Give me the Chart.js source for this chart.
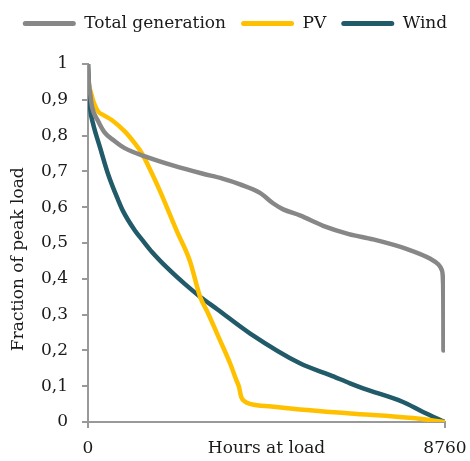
<!DOCTYPE html>
<html>
<head>
<meta charset="utf-8">
<script src="https://cdn.jsdelivr.net/npm/chart.js@4/dist/chart.umd.min.js"></script>
<style>
  html, body { margin: 0; padding: 0; background: #fff; }
  #wrap { width: 470px; height: 461px; }
</style>
</head>
<body>
<div id="wrap"><canvas id="ldc"></canvas></div>
<script>
// load duration curves
const genHours = [0, 20, 50, 100, 250, 400, 650, 900, 1400, 2100, 2800, 3300, 3730, 4220, 4540, 4790, 5200, 5770, 6400, 7000, 7830, 8400, 8600, 8680, 8712, 8720, 8722];
const genValues = [1.0, 0.95, 0.92, 0.88, 0.84, 0.81, 0.785, 0.765, 0.742, 0.716, 0.694, 0.68, 0.664, 0.64, 0.611, 0.594, 0.577, 0.548, 0.525, 0.51, 0.483, 0.456, 0.44, 0.425, 0.39, 0.3, 0.2];

const pvHours = [0, 60, 150, 245, 400, 590, 908, 1150, 1325, 1570, 1770, 2180, 2500, 2750, 2920, 3240, 3500, 3640, 3700, 3760, 3840, 4000, 4500, 5200, 6430, 7980, 8760];
const pvValues = [0.95, 0.925, 0.89, 0.868, 0.856, 0.843, 0.811, 0.778, 0.75, 0.694, 0.644, 0.533, 0.45, 0.35, 0.31, 0.228, 0.16, 0.117, 0.1, 0.07, 0.058, 0.05, 0.043, 0.035, 0.024, 0.011, 0.0];

const windHours = [0, 30, 60, 120, 300, 500, 740, 860, 1150, 1350, 1570, 1940, 2380, 2750, 3170, 3980, 5200, 5940, 6430, 6750, 7730, 8220, 8760];
const windValues = [1.0, 0.92, 0.87, 0.835, 0.765, 0.69, 0.62, 0.589, 0.535, 0.506, 0.475, 0.431, 0.385, 0.35, 0.315, 0.247, 0.164, 0.131, 0.108, 0.094, 0.056, 0.028, 0.0];

const xTicks = [0, 4380, 8760];
const xTitle = 'Hours at load';
const yTitle = 'Fraction of peak load';

const font = "'DejaVu Serif', serif";
const fontSize = 17;
const textColor = '#1a1a1a';
const axisColor = '#999999';

const toPoints = (hours, values) => hours.map((h, i) => ({ x: h, y: values[i] }));

const makeSet = (label, hours, values, color) => ({
  label: label,
  data: toPoints(hours, values),
  borderColor: color,
  backgroundColor: color,
  borderWidth: 4.5,
  pointRadius: 0,
  cubicInterpolationMode: 'monotone',
  borderCapStyle: 'round',
  borderJoinStyle: 'round',
  fill: false
});

// extra room under the legend
const legendGap = {
  id: 'legendGap',
  beforeInit(chart) {
    const fit = chart.legend.fit;
    chart.legend.fit = function () {
      fit.call(this);
      this.height += 22;
    };
  }
};

new Chart(document.getElementById('ldc').getContext('2d'), {
  type: 'line',
  data: {
    datasets: [
      makeSet('Total generation', genHours, genValues, '#878787'),
      makeSet('PV', pvHours, pvValues, '#FFC000'),
      makeSet('Wind', windHours, windValues, '#215A69')
    ]
  },
  plugins: [legendGap],
  options: {
    responsive: true,
    maintainAspectRatio: false,
    animation: false,
    layout: { padding: { left: 0, right: 0, top: 0, bottom: 2 } },
    plugins: {
      tooltip: { enabled: false },
      legend: {
        position: 'top',
        labels: {
          color: textColor,
          font: { family: font, size: fontSize },
          boxWidth: 53,
          boxHeight: 5,
          padding: 15,
          useBorderRadius: true,
          borderRadius: 2.5,
          generateLabels: (chart) =>
            Chart.defaults.plugins.legend.labels.generateLabels(chart).map(l => ({ ...l, lineWidth: 0, fillStyle: l.strokeStyle }))
        }
      }
    },
    scales: {
      x: {
        type: 'linear',
        min: 0,
        max: 8760,
        afterBuildTicks: (axis) => { axis.ticks = xTicks.map(v => ({ value: v })); },
        afterFit: (axis) => {
          axis.height = 37;
          axis.paddingLeft = 0;
          axis.paddingRight = 25;
        },
        ticks: {
          color: textColor,
          font: { family: font, size: fontSize },
          padding: 10,
          maxRotation: 0,
          autoSkip: false,
          callback: (v) => v === 4380 ? xTitle : String(v)
        },
        grid: {
          drawOnChartArea: false,
          tickLength: 6,
          lineWidth: 2,
          color: (ctx) => (ctx.tick && ctx.tick.value === 4380) ? 'rgba(0,0,0,0)' : axisColor
        },
        border: { color: axisColor, width: 2 }
      },
      y: {
        min: 0,
        max: 1,
        afterFit: (axis) => { axis.width = 88; },
        ticks: {
          stepSize: 0.1,
          color: textColor,
          font: { family: font, size: fontSize },
          padding: 14,
          callback: (v) => {
            const r = Math.round(v * 10) / 10;
            return (r === 0 || r === 1) ? String(r) : r.toFixed(1).replace('.', ',');
          }
        },
        grid: {
          drawOnChartArea: false,
          tickLength: 6,
          lineWidth: 2,
          color: axisColor
        },
        border: { color: axisColor, width: 2 },
        title: {
          display: true,
          text: yTitle + '      ',
          color: textColor,
          font: { family: font, size: fontSize },
          padding: { top: 8, bottom: 4 }
        }
      }
    }
  }
});
</script>
</body>
</html>
